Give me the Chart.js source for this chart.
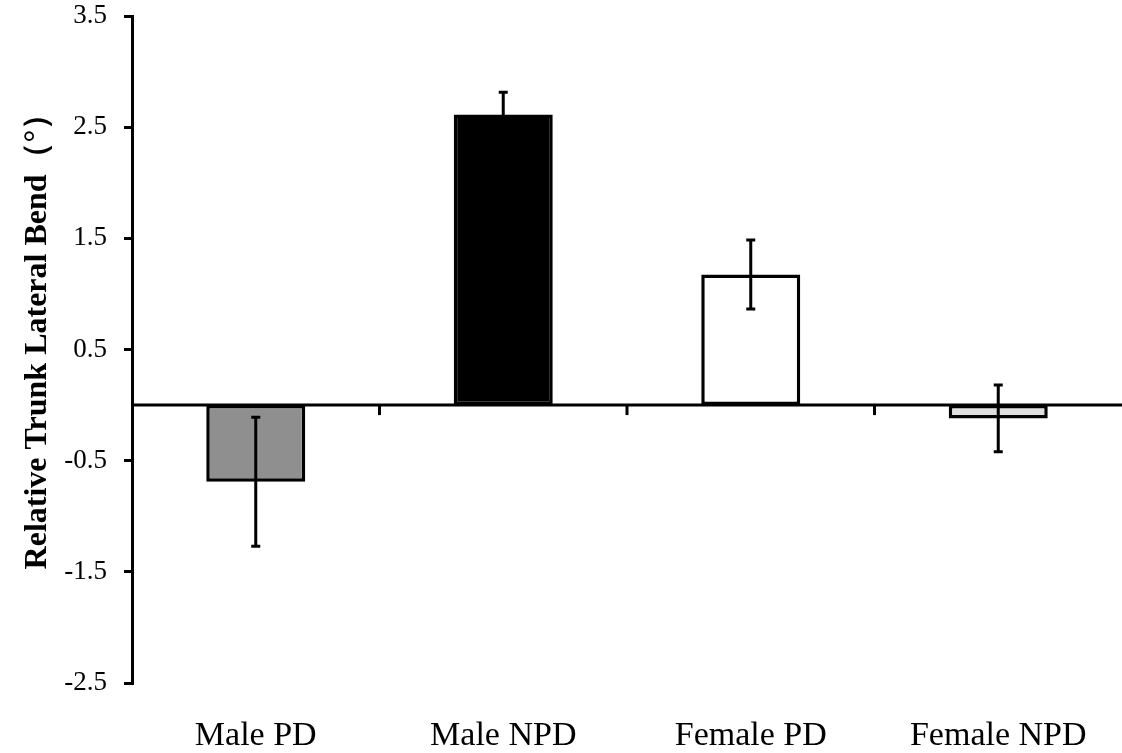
<!DOCTYPE html>
<html>
<head>
<meta charset="utf-8">
<script src="https://cdn.jsdelivr.net/npm/chart.js@4.4.1/dist/chart.umd.min.js"></script>
<style>
  html, body { margin: 0; padding: 0; background: #ffffff; }
  #wrap { width: 1122px; height: 753px; }
</style>
</head>
<body>
<div id="wrap"><canvas id="c" width="1122" height="753"></canvas></div>
<script>
const categories = ["Male PD", "Male NPD", "Female PD", "Female NPD"];
const means = [-0.69, 2.615, 1.175, -0.12];
const errors = [0.58, 0.2, 0.31, 0.30];
const barColors = ["#8f8f8f", "#000000", "#ffffff", "#dedede"];
const yTicks = [-2.5, -1.5, -0.5, 0.5, 1.5, 2.5, 3.5];
const yTitle = "    Relative Trunk Lateral Bend（°）";

const FONT = "'Liberation Serif', 'Times New Roman', serif";

const zeroLinePlugin = {
  id: 'zeroLine',
  afterDatasetsDraw(chart) {
    const ctx = chart.ctx;
    const y = chart.scales.y.getPixelForValue(0);
    const xs = chart.scales.x;
    ctx.save();
    ctx.strokeStyle = '#000';
    ctx.lineWidth = 3;
    ctx.beginPath();
    ctx.moveTo(chart.chartArea.left, y);
    ctx.lineTo(chart.width, y);
    ctx.stroke();
    for (let i = 1; i < categories.length; i++) {
      const bx = (xs.getPixelForValue(i - 1) + xs.getPixelForValue(i)) / 2;
      ctx.beginPath();
      ctx.moveTo(bx, y);
      ctx.lineTo(bx, y + 10);
      ctx.stroke();
    }
    ctx.restore();
  }
};

const errorBarPlugin = {
  id: 'errorBars',
  afterDatasetsDraw(chart) {
    const ctx = chart.ctx;
    const meta = chart.getDatasetMeta(0);
    const ys = chart.scales.y;
    ctx.save();
    ctx.strokeStyle = '#000';
    ctx.lineWidth = 3;
    meta.data.forEach((bar, i) => {
      const x = bar.x;
      const yHi = ys.getPixelForValue(means[i] + errors[i]);
      const yLo = ys.getPixelForValue(means[i] - errors[i]);
      ctx.beginPath();
      ctx.moveTo(x, yHi);
      ctx.lineTo(x, yLo);
      ctx.moveTo(x - 4.5, yHi);
      ctx.lineTo(x + 4.5, yHi);
      ctx.moveTo(x - 4.5, yLo);
      ctx.lineTo(x + 4.5, yLo);
      ctx.stroke();
    });
    ctx.restore();
  }
};

new Chart(document.getElementById('c'), {
  type: 'bar',
  data: {
    labels: categories,
    datasets: [{
      data: means,
      backgroundColor: barColors,
      borderColor: '#000',
      borderWidth: 3.5,
      borderSkipped: false,
      barPercentage: 0.4,
      categoryPercentage: 1.0
    }]
  },
  options: {
    responsive: false,
    animation: false,
    devicePixelRatio: 1,
    layout: { padding: { top: 0, left: 0, right: 0, bottom: 0 } },
    plugins: {
      legend: { display: false },
      tooltip: { enabled: false }
    },
    scales: {
      x: {
        grid: { display: false, drawTicks: false },
        border: { display: false },
        ticks: {
          color: '#000',
          padding: 33,
          font: { family: FONT, size: 34 }
        },
        afterFit(scale) { scale.height = 70; }
      },
      y: {
        min: -2.5,
        max: 3.5,
        afterBuildTicks(scale) { scale.ticks = yTicks.map(v => ({ value: v })); },
        grid: {
          drawOnChartArea: false,
          drawTicks: true,
          tickLength: 8,
          color: '#000',
          lineWidth: 3
        },
        border: { display: true, color: '#000', width: 3 },
        ticks: {
          color: '#000',
          padding: 17,
          font: { family: FONT, size: 27 },
          callback: (v) => v.toFixed(1)
        },
        title: {
          display: true,
          text: yTitle,
          color: '#000',
          padding: { top: 19, bottom: 0 },
          font: { family: FONT, size: 32, weight: 'bold' }
        },
        afterFit(scale) {
          scale.width = 132;
          scale.paddingTop = 16;
          scale.paddingBottom = 0;
        }
      }
    }
  },
  plugins: [zeroLinePlugin, errorBarPlugin]
});
</script>
</body>
</html>
